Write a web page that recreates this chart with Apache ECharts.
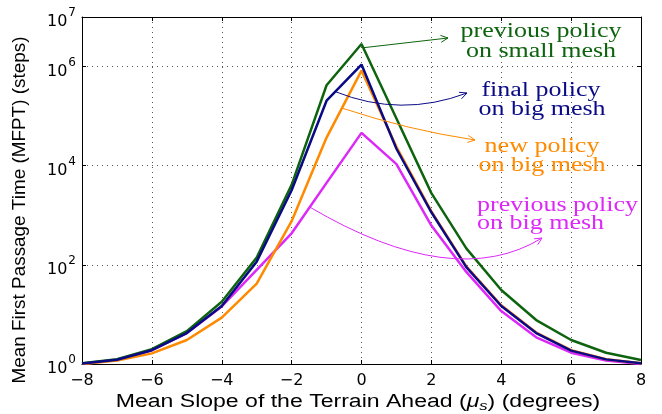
<!DOCTYPE html>
<html>
<head>
<meta charset="utf-8">
<script src="https://cdn.jsdelivr.net/npm/echarts@6/dist/echarts.min.js"></script>
<style>
  html, body { margin: 0; padding: 0; background: #fff; }
  #chart { width: 662px; height: 414px; }
</style>
</head>
<body>
<div id="chart"></div>
<script>
// Mean slope of the terrain ahead (degrees)
const slopes = [-8, -7, -6, -5, -4, -3, -2, -1, 0, 1, 2, 3, 4, 5, 6, 7, 8];

// Mean first passage time (steps) for each policy / mesh
const prevPolicySmallMesh = [1.03, 1.25, 2.0, 4.6, 18, 140, 4100, 4.2e5, 2.85e6, 9.0e4, 2800, 215, 31, 7.7, 3.05, 1.69, 1.2];
const finalPolicyBigMesh  = [1.02, 1.22, 1.9, 4.2, 14.8, 116, 3200, 2.05e5, 1.1e6, 2.2e4, 1150, 90, 14.8, 4.2, 1.86, 1.24, 1.03];
const newPolicyBigMesh    = [1.0, 1.17, 1.64, 3.05, 8.6, 42, 760, 3.7e4, 8.3e5, 2.4e4, 1200, 93, 15.3, 4.3, 1.9, 1.25, 1.03];
const prevPolicyBigMesh   = [1.0, 1.2, 1.9, 4.2, 14.5, 79, 433, 4.5e3, 4.6e4, 1.08e4, 620, 72, 11.7, 3.45, 1.69, 1.17, 1.0];

// Axis ranges
const xRange = [-8, 8];
const xStep = 2;
const yRange = [1, 1e7];
const yDecadeStep = 2;

const COLORS = {
  green: '#0e640e',
  blue: '#0a0a86',
  orange: '#ff8a00',
  magenta: '#dc28f8'
};

const pairs = (vals) => slopes.map((s, i) => [s, vals[i]]);

const chart = echarts.init(document.getElementById('chart'), null, { renderer: 'canvas' });

const grid = { left: 82, right: 21, top: 17, bottom: 50 };
const dotted = { color: '#555', width: 1, type: [1, 4] };
const boxLine = { show: true, onZero: false, lineStyle: { color: '#000', width: 1 } };
const inTicks = { show: true, inside: true, length: 4, lineStyle: { color: '#000' } };

const lineSeries = (name, vals, color) => ({
  name, type: 'line', data: pairs(vals),
  showSymbol: false, symbol: 'none',
  lineStyle: { color, width: 2.5 },
  itemStyle: { color },
  animation: false,
  xAxisIndex: 0, yAxisIndex: 0
});

chart.setOption({
  animation: false,
  backgroundColor: '#fff',
  grid,
  xAxis: [
    {
      type: 'value', position: 'bottom', min: xRange[0], max: xRange[1], interval: xStep,
      axisLine: boxLine, axisTick: inTicks,
      axisLabel: {
        margin: 9, color: '#000', fontFamily: 'DejaVu Sans', fontSize: 16,
        formatter: (v) => String(v).replace('-', '\u2212')
      },
      splitLine: { show: true, lineStyle: dotted }
    },
    {
      type: 'value', position: 'top', min: xRange[0], max: xRange[1], interval: xStep,
      axisLine: boxLine, axisTick: inTicks,
      axisLabel: { show: false }, splitLine: { show: false }
    }
  ],
  yAxis: [
    {
      type: 'log', logBase: 10, position: 'left', min: yRange[0], max: yRange[1], interval: yDecadeStep,
      axisLine: boxLine, axisTick: inTicks,
      axisLabel: {
        margin: 6, color: '#000',
        formatter: (v) => '{b|10}{s|' + Math.round(Math.log10(v)) + '}',
        rich: {
          b: { fontFamily: 'DejaVu Sans', fontSize: 16, lineHeight: 20, padding: [10, 0, 0, 0] },
          s: { fontFamily: 'DejaVu Sans', fontSize: 12, lineHeight: 14, verticalAlign: 'top', padding: [0, 0, 0, 1] }
        }
      },
      splitLine: { show: true, lineStyle: dotted }
    },
    {
      type: 'log', logBase: 10, position: 'right', min: yRange[0], max: yRange[1], interval: yDecadeStep,
      axisLine: boxLine, axisTick: inTicks,
      axisLabel: { show: false }, splitLine: { show: false }
    }
  ],
  series: [
    lineSeries('previous policy on big mesh', prevPolicyBigMesh, COLORS.magenta),
    lineSeries('new policy on big mesh', newPolicyBigMesh, COLORS.orange),
    lineSeries('previous policy on small mesh', prevPolicySmallMesh, COLORS.green),
    lineSeries('final policy on big mesh', finalPolicyBigMesh, COLORS.blue)
  ]
});

// Point on a plotted curve at fractional slope xv (linear between neighbouring vertices in pixel space)
function pointOn(vals, xv) {
  const i = Math.max(0, Math.min(slopes.length - 2, Math.floor(xv - slopes[0])));
  const a = chart.convertToPixel({ gridIndex: 0 }, [slopes[i], vals[i]]);
  const b = chart.convertToPixel({ gridIndex: 0 }, [slopes[i + 1], vals[i + 1]]);
  const t = (xv - slopes[i]) / (slopes[i + 1] - slopes[i]);
  return [a[0] + (b[0] - a[0]) * t, a[1] + (b[1] - a[1]) * t];
}

function arrowHead(from, tip, color) {
  const ang = Math.atan2(tip[1] - from[1], tip[0] - from[0]);
  const len = 8, spread = 0.45;
  const p1 = [tip[0] - len * Math.cos(ang - spread), tip[1] - len * Math.sin(ang - spread)];
  const p2 = [tip[0] - len * Math.cos(ang + spread), tip[1] - len * Math.sin(ang + spread)];
  return {
    type: 'polyline', silent: true, z: 100,
    shape: { points: [p1, tip, p2] },
    style: { stroke: color, lineWidth: 1, fill: null }
  };
}

function curvedArrow(start, ctrl, end, color) {
  const els = [];
  if (ctrl) {
    els.push({
      type: 'bezierCurve', silent: true, z: 100,
      shape: { x1: start[0], y1: start[1], cpx1: ctrl[0], cpy1: ctrl[1], x2: end[0], y2: end[1] },
      style: { stroke: color, lineWidth: 1, fill: null }
    });
    els.push(arrowHead(ctrl, end, color));
  } else {
    els.push({
      type: 'line', silent: true, z: 100,
      shape: { x1: start[0], y1: start[1], x2: end[0], y2: end[1] },
      style: { stroke: color, lineWidth: 1 }
    });
    els.push(arrowHead(start, end, color));
  }
  return els;
}

const serif = 'Liberation Serif';
function label(text, x, y, color, align) {
  return {
    type: 'text', silent: true, z: 100, x, y, scaleX: 1.3,
    style: {
      text, fill: color, fontFamily: serif, fontSize: 20,
      align: align || 'center', verticalAlign: 'middle'
    }
  };
}

const graphics = [].concat(
  curvedArrow(pointOn(prevPolicySmallMesh, 0.05), null, [448, 38], COLORS.green),
  curvedArrow(pointOn(finalPolicyBigMesh, -0.75), [401, 118], [467, 93], COLORS.blue),
  curvedArrow(pointOn(newPolicyBigMesh, -0.56), [408, 130], [475, 140], COLORS.orange),
  curvedArrow(pointOn(prevPolicyBigMesh, -1.48), [454, 292], [542, 238], COLORS.magenta),
  [
    label('previous policy', 541, 32, COLORS.green),
    label('on small mesh', 541, 52, COLORS.green),
    label('final policy', 541, 91, COLORS.blue),
    label('on big mesh', 542, 110, COLORS.blue),
    label('new policy', 542, 147, COLORS.orange),
    label('on big mesh', 542, 166, COLORS.orange),
    label('previous policy', 477, 206, COLORS.magenta, 'left'),
    label('on big mesh', 477, 224, COLORS.magenta, 'left'),
    // axis titles
    {
      type: 'text', silent: true, z: 100, x: 358, y: 402, scaleX: 1.28,
      style: {
        text: 'Mean Slope of the Terrain Ahead ({i|\u03bc}{sub|s}) (degrees)',
        fill: '#000', fontFamily: 'Liberation Sans', fontSize: 18,
        align: 'center', verticalAlign: 'middle',
        rich: {
          i: { fontFamily: 'Liberation Sans', fontSize: 18, fontStyle: 'italic', fill: '#000' },
          sub: { fontFamily: 'Liberation Sans', fontSize: 13, fontStyle: 'italic', fill: '#000', padding: [8, 0, 0, 0] }
        }
      }
    },
    {
      type: 'text', silent: true, z: 100, x: 20, y: 210, rotation: Math.PI / 2, scaleX: 1.05,
      style: {
        text: 'Mean First Passage Time (MFPT) (steps)',
        fill: '#000', fontFamily: 'Liberation Sans', fontSize: 18,
        align: 'center', verticalAlign: 'middle'
      }
    }
  ]
);

chart.setOption({ graphic: graphics });
</script>
</body>
</html>
